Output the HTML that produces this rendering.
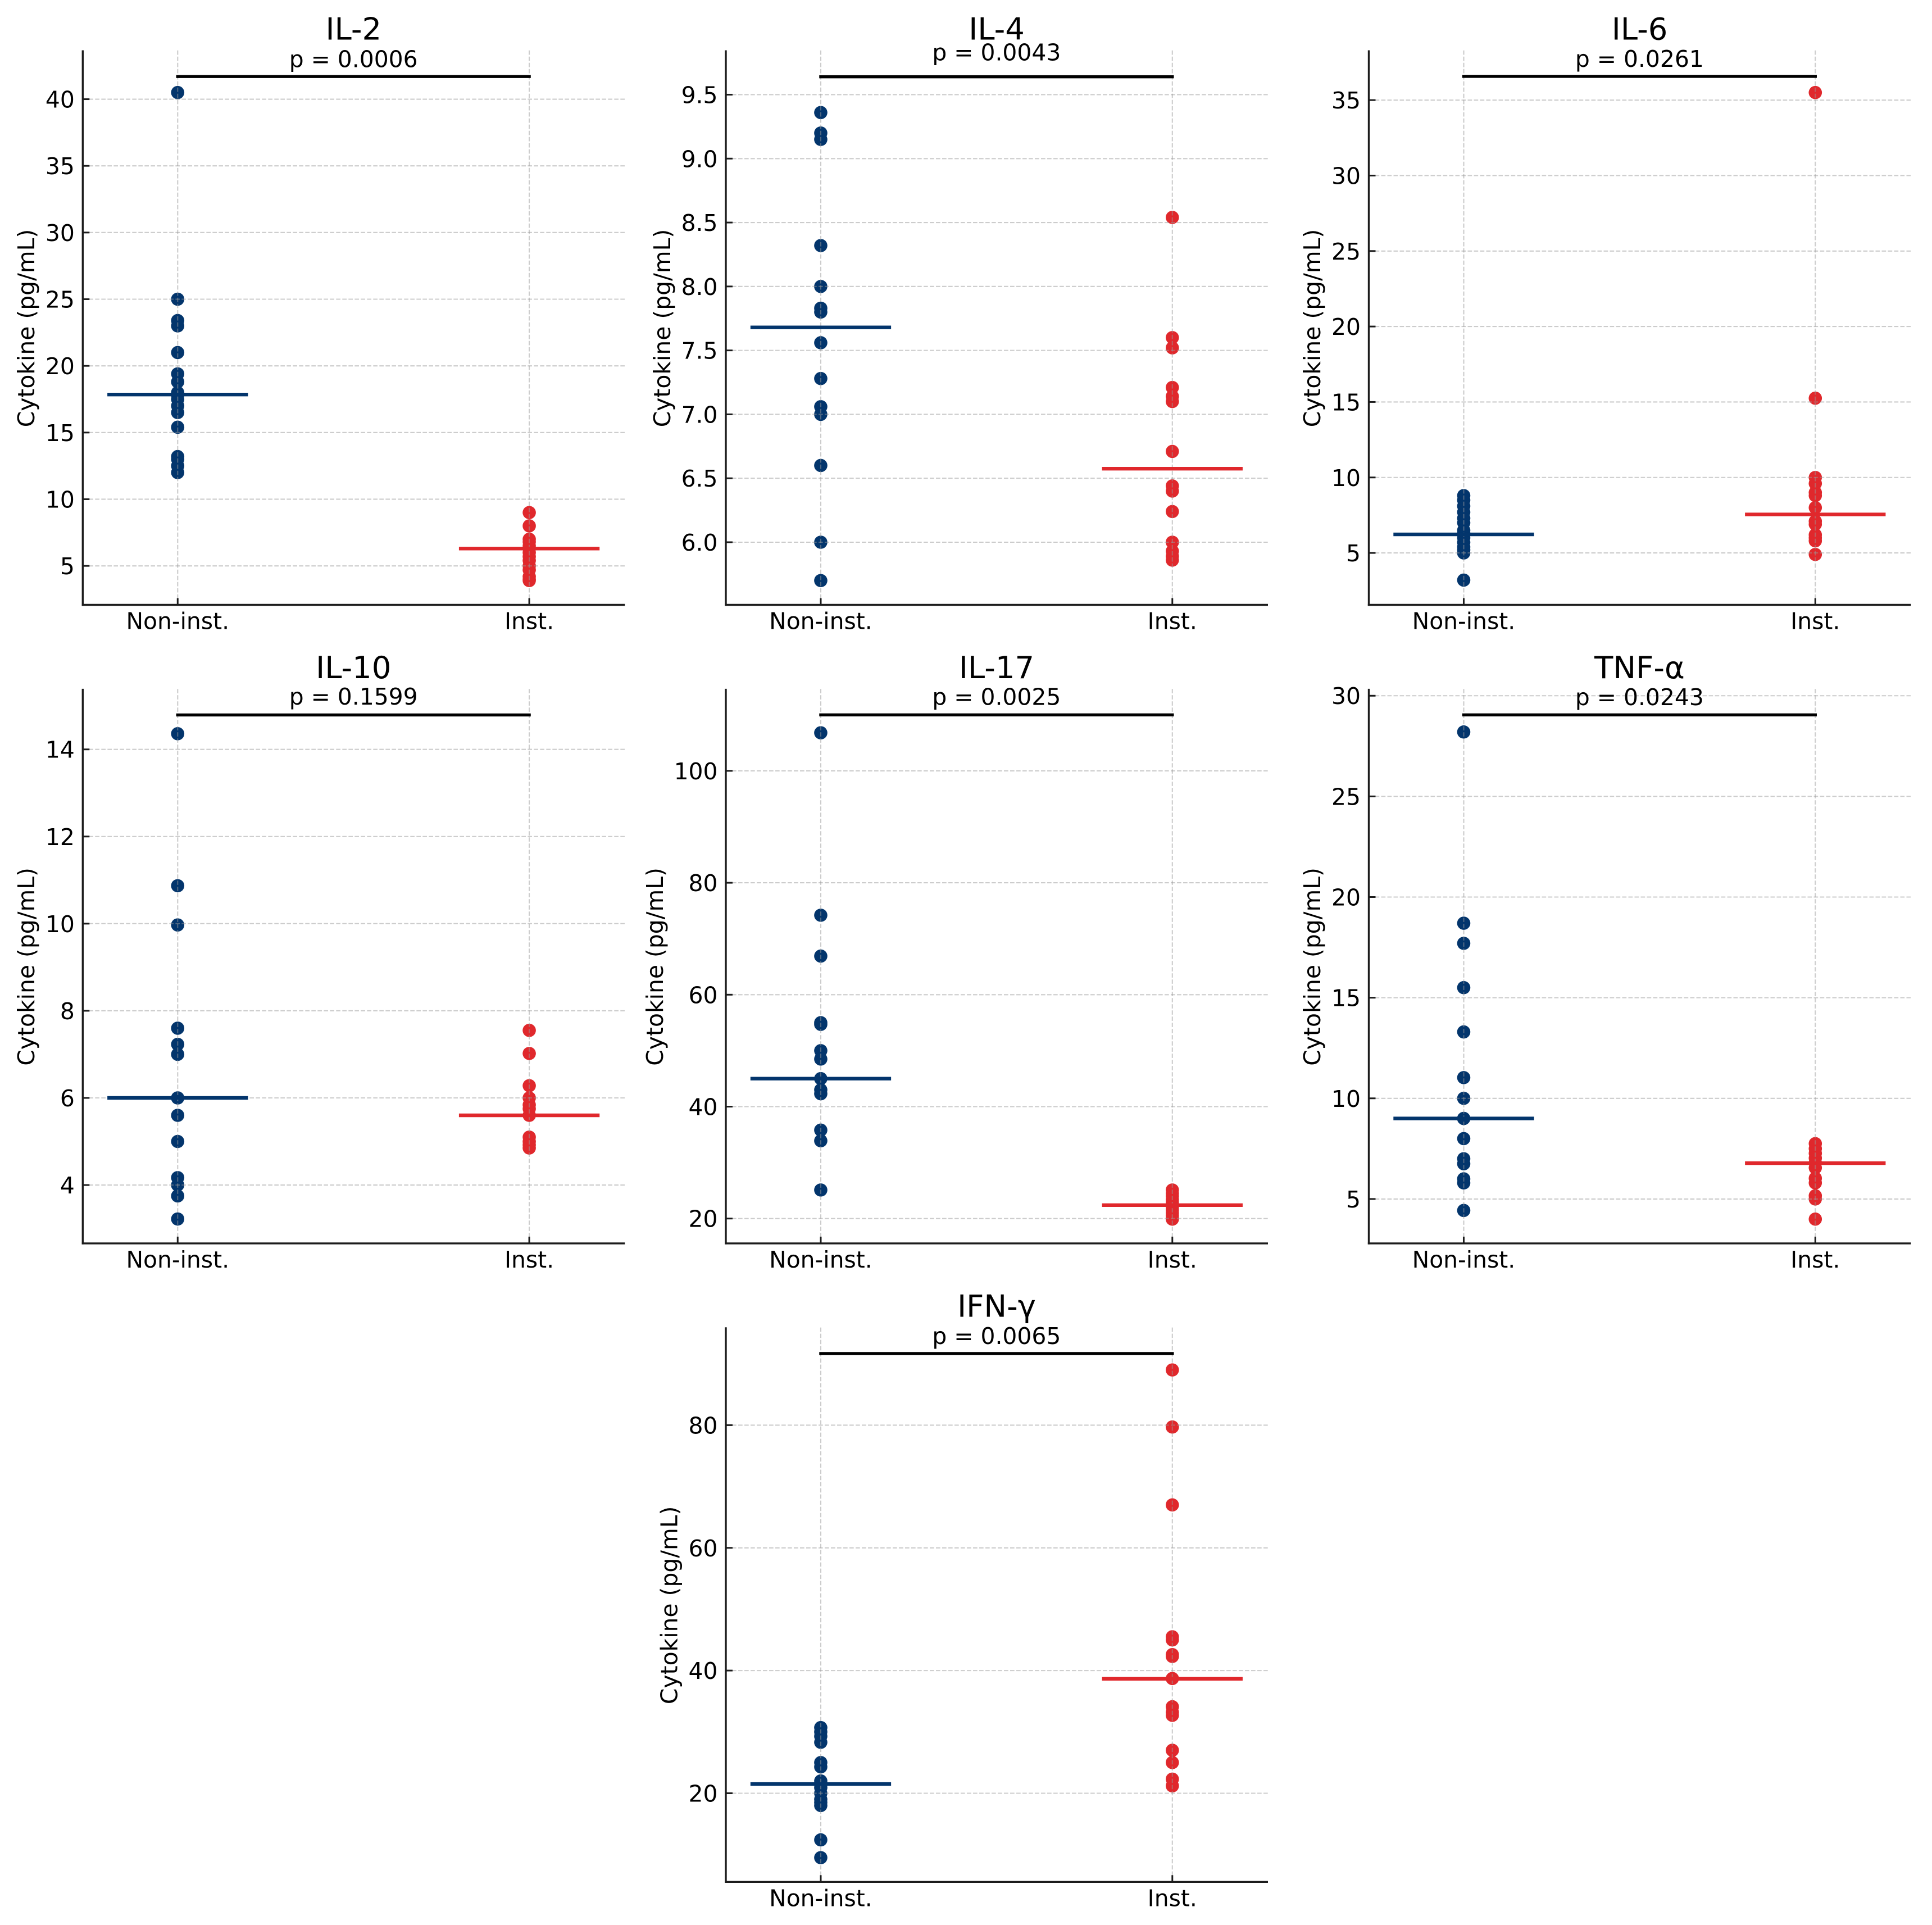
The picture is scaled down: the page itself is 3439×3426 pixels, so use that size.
<!DOCTYPE html>
<html lang="en">
<head>
<meta charset="utf-8">
<title>Cytokine levels: Non-instrumented vs Instrumented</title>
<style>
  html, body { margin: 0; padding: 0; background: #ffffff; }
  svg { display: block; }
  text { font-family: "DejaVu Sans", "Liberation Sans", sans-serif; fill: #000000; }
</style>
</head>
<body>
<svg id="figure" xmlns="http://www.w3.org/2000/svg" width="3439" height="3426" viewBox="0 0 3439 3426"></svg>
<script>
const panelTitles = ['IL-2', 'IL-4', 'IL-6', 'IL-10', 'IL-17', 'TNF-α', 'IFN-γ'];
const pLabels = ['p = 0.0006', 'p = 0.0043', 'p = 0.0261', 'p = 0.1599', 'p = 0.0025', 'p = 0.0243', 'p = 0.0065'];
const groupLabels = ['Non-inst.', 'Inst.'];

const nonInstValues = [
  [40.5, 25, 23.4, 23, 21, 19.4, 18.8, 18, 17.8, 17.5, 17, 16.5, 15.4, 13.2, 13, 12.5, 12],
  [9.36, 9.2, 9.15, 8.32, 8.0, 7.83, 7.8, 7.56, 7.28, 7.06, 7.0, 6.6, 6.0, 5.7],
  [8.8, 8.5, 8.1, 7.7, 7.3, 7.0, 6.5, 6.3, 6.0, 5.7, 5.4, 5.2, 5.0, 3.2],
  [14.36, 10.87, 9.97, 7.6, 7.23, 7.0, 6.0, 6.0, 5.6, 5.0, 4.17, 4.0, 3.75, 3.22],
  [106.8, 74.2, 66.9, 55.0, 54.7, 50, 48.5, 45, 43, 42.3, 35.8, 33.9, 25.1],
  [28.2, 18.7, 17.7, 15.5, 13.3, 11.03, 10, 9, 9, 8, 7.0, 6.75, 6.0, 5.8, 4.43],
  [30.7, 30, 29.3, 28.3, 25, 24.3, 22, 21.5, 20.9, 20, 19, 18.5, 18, 12.4, 9.5]
];
const instValues = [
  [9, 8, 7, 6.8, 6.5, 6.3, 6, 5.7, 5.4, 5, 4.7, 4.2, 4, 3.9],
  [8.54, 7.6, 7.52, 7.21, 7.14, 7.1, 6.71, 6.44, 6.4, 6.24, 6.0, 5.93, 5.89, 5.86],
  [35.5, 15.25, 10, 9.6, 9, 8.8, 8, 7.1, 6.9, 6.2, 6.0, 5.8, 4.9],
  [7.55, 7.02, 6.28, 6.0, 5.84, 5.75, 5.6, 5.1, 5.0, 4.92, 4.85],
  [25.1, 24.5, 24, 23.4, 22.9, 22.4, 22, 21.5, 21, 20.5, 20, 19.9],
  [7.75, 7.5, 7.27, 7.03, 6.8, 6.55, 6.03, 5.8, 5.16, 5.0, 4.0],
  [89, 79.7, 67, 45.5, 45, 42.6, 42.3, 38.7, 34.1, 33.2, 32.7, 27, 25, 22.3, 21.2]
];
const nonInstMedians = [17.85, 7.68, 6.23, 6.0, 45, 9.0, 21.5];
const instMedians = [6.3, 6.575, 7.55, 5.6, 22.4, 6.78, 38.65];
const bracketLevels = [41.7, 9.64, 36.57, 14.79, 110, 29.05, 91.67];
const yLimits = [
  [2.01, 43.6],
  [5.503, 9.84],
  [1.5, 38.24],
  [2.64, 15.37],
  [15.4, 114.5],
  [2.75, 30.3],
  [5.4, 95.8]
];
const yTickLabels = [
  ['5', '10', '15', '20', '25', '30', '35', '40'],
  ['6.0', '6.5', '7.0', '7.5', '8.0', '8.5', '9.0', '9.5'],
  ['5', '10', '15', '20', '25', '30', '35'],
  ['4', '6', '8', '10', '12', '14'],
  ['20', '40', '60', '80', '100'],
  ['5', '10', '15', '20', '25', '30'],
  ['20', '40', '60', '80']
];
const xLimits = [-0.27, 1.272];

const SVG_NS = 'http://www.w3.org/2000/svg';
const figure = document.getElementById('figure');
const NAVY = '#03356c';
const RED = '#e0282c';
const GRID = '#999999';
const SPINE = '#1c1c1c';
const PANEL_W = 965;
const PANEL_H = 987;
const COL_LEFT = [147.3, 1292, 2436.5];
const ROW_TOP = [89.5, 1225.9, 2362.3];
const GRID_SLOTS = [[0, 0], [1, 0], [2, 0], [0, 1], [1, 1], [2, 1], [1, 2]];
const MARK_SHIFT = 1.6;
const TICK_FONT = 40.85;

function make(tag, attrs, parent) {
  const node = document.createElementNS(SVG_NS, tag);
  Object.keys(attrs).forEach(function (k) { node.setAttribute(k, attrs[k]); });
  parent.appendChild(node);
  return node;
}

function labelOffset(labels) {
  if (labels.some(function (s) { return s.length === 3 && s.indexOf('.') < 0; })) return 112;
  if (labels.some(function (s) { return s.indexOf('.') >= 0; })) return 99;
  return 86.5;
}

function drawPanel(i) {
  const left = COL_LEFT[GRID_SLOTS[i][0]];
  const top = ROW_TOP[GRID_SLOTS[i][1]];
  const right = left + PANEL_W;
  const bottom = top + PANEL_H;
  const lim = yLimits[i];
  const xScale = function (v) { return left + (v - xLimits[0]) / (xLimits[1] - xLimits[0]) * PANEL_W; };
  const yScale = function (v) { return bottom - (v - lim[0]) / (lim[1] - lim[0]) * PANEL_H + MARK_SHIFT; };

  const panel = make('g', {}, figure);
  
  

  // points sit under the grid, as in the reference
  [nonInstValues[i], instValues[i]].forEach(function (series, g) {
    series.forEach(function (v) {
      const dot = make('circle', { cx: xScale(g), cy: yScale(v), r: 11.8, fill: g === 0 ? NAVY : RED }, panel);
      
      
    });
  });

  // horizontal grid lines
  yTickLabels[i].forEach(function (label) {
    const y = yScale(parseFloat(label));
    const line = make('line', { x1: left, x2: right, y1: y, y2: y, stroke: GRID, 'stroke-opacity': 0.5, 'stroke-width': 2.1, 'stroke-dasharray': '7.7 3.3' }, panel);
    
    
  });

  // vertical grid lines
  groupLabels.forEach(function (label, g) {
    const x = xScale(g);
    const line = make('line', { x1: x, x2: x, y1: bottom, y2: top, stroke: GRID, 'stroke-opacity': 0.5, 'stroke-width': 2.1, 'stroke-dasharray': '7.7 3.3' }, panel);
    
    
  });

  // median bars
  [nonInstMedians[i], instMedians[i]].forEach(function (m, g) {
    const y = yScale(m);
    const bar = make('line', { x1: xScale(g - 0.2), x2: xScale(g + 0.2), y1: y, y2: y, stroke: g === 0 ? NAVY : RED, 'stroke-width': 6.4 }, panel);
    
    
  });

  // significance bracket
  const by = yScale(bracketLevels[i]);
  const bracket = make('line', { x1: xScale(0), x2: xScale(1), y1: by, y2: by, stroke: '#000000', 'stroke-width': 5.4, 'stroke-linecap': 'square' }, panel);
  
  

  // p-value label
  const pText = make('text', { x: (xScale(0) + xScale(1)) / 2, y: yScale(bracketLevels[i] * 1.01) - 7, 'text-anchor': 'middle', 'font-size': TICK_FONT }, panel);
  pText.textContent = pLabels[i];
  
  

  // y ticks and labels
  yTickLabels[i].forEach(function (label) {
    const y = yScale(parseFloat(label));
    const tick = make('line', { x1: left, x2: left + 12, y1: y, y2: y, stroke: SPINE, 'stroke-width': 3 }, panel);
    
    
    const text = make('text', { x: left - 14.5, y: y + 15, 'text-anchor': 'end', 'font-size': TICK_FONT }, panel);
    text.textContent = label;
    
    
  });

  // x ticks and labels
  groupLabels.forEach(function (label, g) {
    const x = xScale(g);
    const tick = make('line', { x1: x, x2: x, y1: bottom, y2: bottom - 12, stroke: SPINE, 'stroke-width': 3 }, panel);
    
    
    const text = make('text', { x: x, y: bottom + 43, 'text-anchor': 'middle', 'font-size': TICK_FONT }, panel);
    text.textContent = label;
    
    
  });

  // spines
  const spineLeft = make('line', { x1: left, x2: left, y1: top, y2: bottom + 1.7, stroke: SPINE, 'stroke-width': 3.4 }, panel);
  
  
  const spineBottom = make('line', { x1: left - 1.7, x2: right, y1: bottom, y2: bottom, stroke: SPINE, 'stroke-width': 3.4 }, panel);
  
  

  // y axis title
  const lx = left - labelOffset(yTickLabels[i]);
  const ly = (top + bottom) / 2 + 1;
  const yTitle = make('text', { x: lx, y: ly, 'text-anchor': 'middle', 'font-size': TICK_FONT, transform: 'rotate(-90 ' + lx + ' ' + ly + ')' }, panel);
  yTitle.textContent = 'Cytokine (pg/mL)';
  
  

  // panel title
  const title = make('text', { x: (left + right) / 2 - 0.5, y: top - 19, 'text-anchor': 'middle', 'font-size': 54.4 }, panel);
  title.textContent = panelTitles[i];
  
  
}

panelTitles.forEach(function (name, i) { drawPanel(i); });
</script>
</body>
</html>
